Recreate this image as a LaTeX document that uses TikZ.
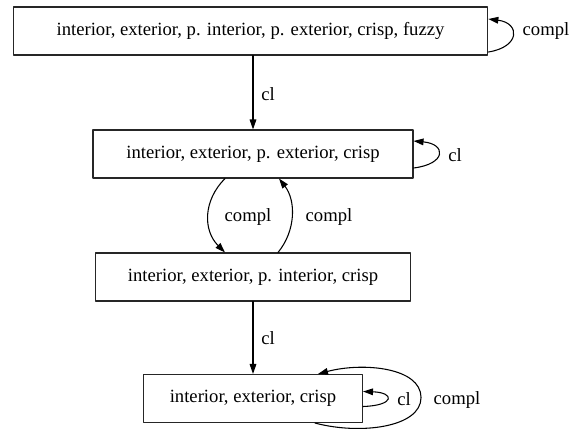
\documentclass[tikz,border=0pt]{standalone}
\usepackage{fontspec}
\setmainfont{Liberation Serif}
\usetikzlibrary{arrows.meta,calc}

\tikzset{
  box/.style={draw=black!85, line width=0.8pt, inner sep=0pt, minimum height=36pt,
    font=\fontsize{14}{17}\selectfont},
  lbl/.style={inner sep=0pt, font=\fontsize{14}{17}\selectfont},
  edge/.style={->, line width=0.8pt},
}

\begin{document}
\begin{tikzpicture}[x=0.75pt, y=-0.75pt, line cap=round, line join=round,
  >={Triangle[length=7.5pt,width=5pt]}]

  %% ════ 四个集合框 ════
  \node[box, minimum width=356pt]    (full) at (250.5,31)  {interior, exterior, p. interior, p. exterior, crisp, fuzzy};
  \node[box, minimum width=240pt]    (pext) at (253,154)   {interior, exterior, p. exterior, crisp};
  \node[box, minimum width=236.25pt] (pint) at (253,277)   {interior, exterior, p. interior, crisp};
  \node[box, minimum width=164.25pt] (base) at (253,398.5) {interior, exterior, crisp};

  %% ════ 竖直的 cl 边 ════
  \draw[edge] (full.south -| pext.north) -- (pext.north);
  \draw[edge] (pint.south) -- (base.north);

  %% ════ pext 与 pint 之间的两条 compl 弧 ════
  \draw[edge] ($(pext.south)+(-28,0)$) .. controls +(-22,22) and +(-22,-22) .. ($(pint.north)+(-28,0)$);
  \draw[edge] ($(pint.north)+(25,0)$) .. controls +(18,-22) and +(17,22) .. ($(pext.south)+(26,0)$);

  %% ════ 自环 ════
  \draw[edge] ($(full.east)+(0,21)$) .. controls +(32,-5) and +(32,4) .. ($(full.east)+(0,-12)$);
  \draw[edge] ($(pext.east)+(0,14)$) .. controls +(33,-4) and +(33,3) .. ($(pext.east)+(0,-13)$);
  \draw[edge] ($(base.east)+(0,8)$) .. controls +(32,-1) and +(32,1) .. ($(base.east)+(0,-7)$);
  % 外圈的 compl 环：从框底出发，绕到右边再回到框顶
  \draw[edge] ($(base.south)+(62,0)$) .. controls +(45,12) and +(0,30) .. ($(base.east)+(58,-1)$)
    .. controls +(0,-30) and +(45,-12) .. ($(base.north)+(65,0)$);

  %% ════ 边标签 ════
  \node[lbl] (clTop)     at (268,94)  {cl};
  \node[lbl] (clMid)     at (268,338) {cl};
  \node[lbl] (complFull) at (546,31)  {compl};
  \node[lbl] (clPext)    at (455,155) {cl};
  \node[lbl] (complDown) at (248,217) {compl};
  \node[lbl] (complUp)   at (329,217) {compl};
  \node[lbl] (clBase)    at (404,399) {cl};
  \node[lbl] (complBase) at (457,400) {compl};

  % 固定画布大小
  \pgfresetboundingbox
  \path[use as bounding box] (0,0) rectangle (581,428);
\end{tikzpicture}
\end{document}
